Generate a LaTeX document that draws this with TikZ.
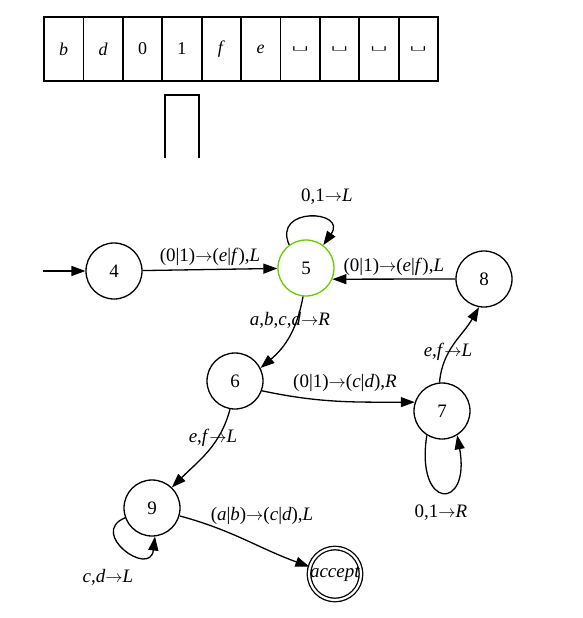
\documentclass[tikz,border=0pt]{standalone}
\usepackage{fontspec}
\usepackage{graphicx}
\setmainfont{Liberation Serif}
\usetikzlibrary{arrows.meta}
\definecolor{curgreen}{RGB}{102,204,0}
\newcommand{\vv}[1]{\textit{#1}}
\newcommand{\ra}{$\rightarrow$}
\newcommand{\bl}{\raisebox{-3pt}{\scalebox{1.2}[0.45]{\ttfamily\fontsize{27}{27}\selectfont\textvisiblespace}}}

\begin{document}
\begin{tikzpicture}[x=1pt,y=-1pt,line width=1.3pt,
  every node/.style={font=\fontsize{19}{22}\selectfont},
  state/.style={circle,draw,minimum size=56pt,inner sep=0pt},
  >={Triangle[length=14pt,width=10pt]}]
  \useasboundingbox (0,0) rectangle (582,618);
  % tape and head
  \foreach \s [count=\i from 0] in {\vv{b},\vv{d},0,1,\vv{f},\vv{e},\bl,\bl,\bl,\bl}
    \node[draw,line width=1.8pt,minimum width=39.4pt,minimum height=64pt,
      font=\fontsize{18}{21}\selectfont] (c\i) at (63.7+39.4*\i,49) {\s};
  \draw[line width=1.8pt] (165,158) -- (165,95) -- (199,95) -- (199,158);
  % states
  \node[state] (s4) at (114,271) {4};
  \node[state,draw=curgreen] (s5) at (306,268) {5};
  \node[state] (s6) at (235,381) {6};
  \node[state] (s7) at (442,411) {7};
  \node[state] (s8) at (484,279) {8};
  \node[state] (s9) at (152,508) {9};
  \node[state,minimum size=51pt,double,double distance=2.2pt] (acc) at (335,574) {\vv{accept}};
  \coordinate (in4) at (43,271);
  % transitions
  \draw[->] (in4) -- (s4);
  \draw[->] (s4) -- node[above] (l45) {(0|1)\ra(\vv{e}|\vv{f}),\vv{L}} (s5);
  \draw[->] (s5.126) .. controls (272,206) and (348,210) .. (s5.53);
  \draw (327,197) node (l55) {0,1\ra\vv{L}};
  \draw[->] (s8.west) -- node[above] (l85) {(0|1)\ra(\vv{e}|\vv{f}),\vv{L}} (s5.-23);
  \draw[->] (s5.-96) to[out=-100,in=40] (s6.27);
  \draw (290,320) node (l56) {\vv{a},\vv{b},\vv{c},\vv{d}\ra\vv{R}};
  \draw[->] (s6.-20) to[out=-12,in=180] (s7.162);
  \draw (345,383) node (l67) {(0|1)\ra(\vv{c}|\vv{d}),\vv{R}};
  \draw[->] (s7.95) to[out=85,in=-120] (s8.-100);
  \draw (448,352) node (l78) {\vv{e},\vv{f}\ra\vv{L}};
  \draw[->] (s7.-122) .. controls (415,511) and (471,511) .. (s7.-58);
  \draw (441,513) node (l77) {0,1\ra\vv{R}};
  \draw[->] (s6.-100) to[out=-105,in=45] (s9.46);
  \draw (213,438) node (l69) {\vv{e},\vv{f}\ra\vv{L}};
  \draw[->] (s9.200) .. controls (88,533) and (150,578) .. (s9.-84);
  \draw (108,577) node (l99) {\vv{c},\vv{d}\ra\vv{L}};
  \draw[->] (s9.-16) to[out=-15,in=160] (acc.164);
  \draw (262,516) node (l9a) {(\vv{a}|\vv{b})\ra(\vv{c}|\vv{d}),\vv{L}};
\end{tikzpicture}
\end{document}
